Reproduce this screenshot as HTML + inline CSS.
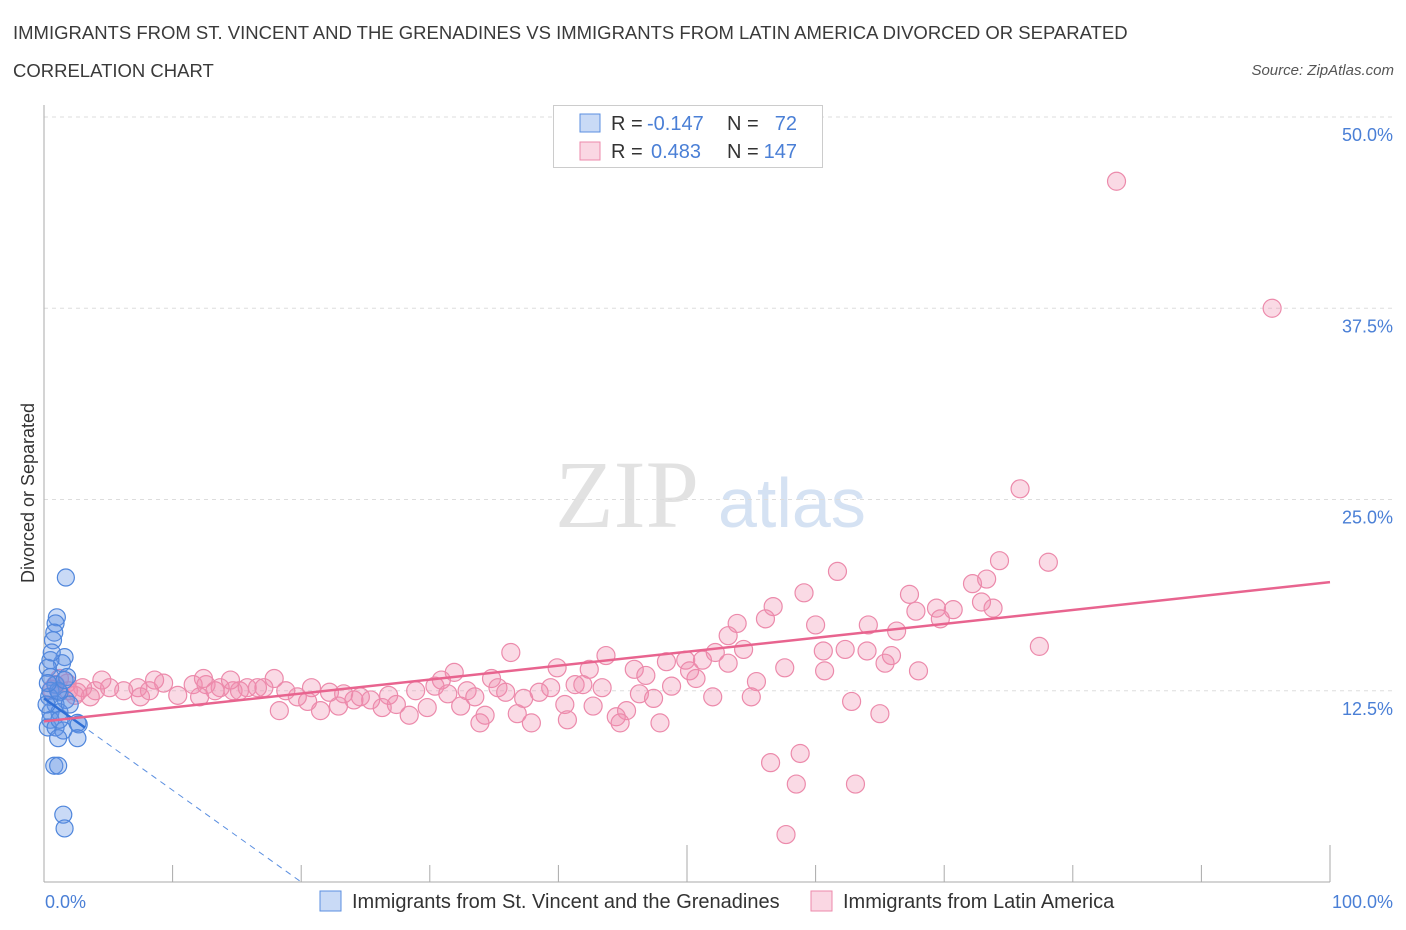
<!DOCTYPE html>
<html><head><meta charset="utf-8">
<style>
body{margin:0;background:#fff;font-family:"Liberation Sans",sans-serif;}
#wrap{position:relative;width:1406px;height:930px;overflow:hidden;}
.t{position:absolute;color:#3a3a3a;font-size:18.5px;}
</style></head>
<body>
<div id="wrap">
<div class="t" style="left:13px;top:22px;">IMMIGRANTS FROM ST. VINCENT AND THE GRENADINES VS IMMIGRANTS FROM LATIN AMERICA DIVORCED OR SEPARATED</div>
<div class="t" style="left:13px;top:60px;">CORRELATION CHART</div>
<div class="t" style="right:12px;top:62px;font-size:15px;font-style:italic;color:#555;">Source: ZipAtlas.com</div>
<svg id="chart" width="1406" height="930" style="position:absolute;left:0;top:0"></svg>
</div>
<script>
const yTicks=[12.5,25,37.5,50];
const yTickLabels=["12.5%","25.0%","37.5%","50.0%"];
const xLabels=["0.0%","100.0%"];
const blueX=[1.7,1.0,0.9,0.8,0.7,1.6,1.4,0.5,0.3,1.8,0.5,0.9,0.5,1.2,0.4,1.7,0.9,0.5,1.2,0.5,0.3,0.9,1.5,2.6,2.7,1.1,2.6,0.8,1.1,1.5,1.6,0.6,1.1,1.6,0.2,2.0,1.2,0.3];
const blueY=[19.9,17.3,16.9,16.3,15.8,14.7,14.3,14.5,14.0,13.4,13.4,12.9,12.5,12.4,12.1,11.9,11.6,11.1,11.1,10.6,10.1,10.1,9.9,10.4,10.3,9.4,9.4,7.6,7.6,4.4,3.5,15.0,12.5,13.2,11.6,11.6,10.6,13.0];
const pinkX=[83.4,95.5,75.9,74.3,78.1,61.7,72.2,73.3,67.3,59.1,72.9,69.4,70.7,67.8,73.8,56.7,69.7,56.1,53.9,60.0,64.1,66.3,53.2,77.4,36.3,43.7,52.2,54.4,60.6,62.3,64.0,65.9,51.2,48.4,49.9,65.4,39.9,42.4,45.9,53.2,57.6,60.7,68.0,50.2,46.8,31.9,30.9,34.8,50.7,55.4,41.3,41.9,43.4,30.4,32.9,35.3,39.4,38.5,46.3,48.8,52.0,55.0,47.4,37.3,35.9,33.5,31.4,28.9,26.8,62.8,32.4,40.5,42.7,45.3,44.5,34.3,36.8,65.0,37.9,40.7,44.8,47.9,33.9,28.4,29.8,27.4,26.3,25.4,24.1,22.9,22.2,21.5,23.3,24.6,20.5,20.8,19.7,18.8,18.3,17.9,17.1,15.8,14.7,13.7,12.6,11.6,10.4,9.3,8.2,7.3,6.2,5.1,4.0,3.0,1.9,56.5,58.8,58.5,63.1,57.7,12.1,15.2,16.6,14.5,13.3,12.4,8.6,7.5,4.5,3.6,0.9,1.2,2.4,0.6,1.8,2.6];
const pinkY=[45.8,37.5,25.7,21.0,20.9,20.3,19.5,19.8,18.8,18.9,18.3,17.9,17.8,17.7,17.9,18.0,17.2,17.2,16.9,16.8,16.8,16.4,16.1,15.4,15.0,14.8,15.0,15.2,15.1,15.2,15.1,14.8,14.5,14.4,14.5,14.3,14.0,13.9,13.9,14.3,14.0,13.8,13.8,13.8,13.5,13.7,13.2,13.3,13.3,13.1,12.9,12.9,12.7,12.8,12.5,12.7,12.7,12.4,12.3,12.8,12.1,12.1,12.0,12.0,12.4,12.1,12.3,12.5,12.2,11.8,11.5,11.6,11.5,11.2,10.8,10.9,11.0,11.0,10.4,10.6,10.4,10.4,10.4,10.9,11.4,11.6,11.4,11.9,11.9,11.5,12.4,11.2,12.3,12.1,11.8,12.7,12.1,12.5,11.2,13.3,12.7,12.7,12.5,12.7,12.9,12.9,12.2,13.0,12.5,12.7,12.5,12.7,12.5,12.7,12.5,7.8,8.4,6.4,6.4,3.1,12.1,12.5,12.7,13.2,12.5,13.3,13.2,12.1,13.2,12.1,12.9,13.3,12.2,12.6,13.0,12.4];
const pinkTrend=[0,10.5,100,19.6];
const blueTrend=[0,12.0,20,0];
const blueSolidEnd=3.2;

const x0=44,x1=1330,yB=882,yT=117;
const sx=v=>x0+(x1-x0)*v/100;
const sy=v=>yB-(yB-yT)*v/50;
const NS="http://www.w3.org/2000/svg";
const svg=document.getElementById('chart');
function mk(tag,attrs,parent){const e=document.createElementNS(NS,tag);for(const k in attrs)e.setAttribute(k,attrs[k]);(parent||svg).appendChild(e);return e;}

let w=mk('text',{x:555,y:527,'font-family':'Liberation Serif,serif','font-size':96,fill:'#e2e2e2'});w.textContent='ZIP';


let w2=mk('text',{x:718,y:527,'font-family':'Liberation Sans,sans-serif','font-size':70,fill:'#d5e2f3'});w2.textContent='atlas';



yTicks.forEach((v,i)=>{
  const g=mk('line',{x1:x0,x2:1392,y1:sy(v),y2:sy(v),stroke:'#ddd','stroke-dasharray':'4,4'});
  
  
  const t=mk('text',{x:1393,y:sy(v)+24,'text-anchor':'end','font-size':18,fill:'#4a7fd6','font-family':'Liberation Sans,sans-serif'});
  t.textContent=yTickLabels[i];
  
  
});
let ax=mk('line',{x1:x0,x2:x0,y1:105,y2:yB,stroke:'#aaa'});


let axx=mk('line',{x1:x0,x2:x1,y1:yB,y2:yB,stroke:'#aaa'});


for(let i=0;i<=10;i++){
  const tk=mk('line',{x1:sx(i*10),x2:sx(i*10),y1:yB,y2:i%5==0?845:865,stroke:'#aaa'});
  
  
}
let xl=mk('text',{x:45,y:908,'font-size':18,fill:'#4a7fd6','font-family':'Liberation Sans,sans-serif'});xl.textContent=xLabels[0];


let xr=mk('text',{x:1393,y:908,'text-anchor':'end','font-size':18,fill:'#4a7fd6','font-family':'Liberation Sans,sans-serif'});xr.textContent=xLabels[1];


let yt=mk('text',{x:0,y:0,transform:'translate(34,493) rotate(-90)','text-anchor':'middle','font-size':18,fill:'#333','font-family':'Liberation Sans,sans-serif'});yt.textContent='Divorced or Separated';



pinkX.forEach((v,i)=>{
  const c=mk('circle',{cx:sx(v),cy:sy(pinkY[i]),r:9,fill:'rgba(240,140,175,0.32)',stroke:'#ec8aab','stroke-width':1.2});
  
  
});
blueX.forEach((v,i)=>{
  const c=mk('circle',{cx:sx(v),cy:sy(blueY[i]),r:8.5,fill:'rgba(100,150,230,0.35)',stroke:'#4f86dc','stroke-width':1.2});
  
  
});
let bt=mk('line',{x1:sx(blueTrend[0]),y1:sy(blueTrend[1]),x2:sx(blueTrend[2]),y2:sy(blueTrend[3]),stroke:'#5b8fe0','stroke-width':1,'stroke-dasharray':'6,5'});


const bs=blueTrend[1]+(blueTrend[3]-blueTrend[1])*blueSolidEnd/(blueTrend[2]-blueTrend[0]);
let bts=mk('line',{x1:sx(blueTrend[0]),y1:sy(blueTrend[1]),x2:sx(blueSolidEnd),y2:sy(bs),stroke:'#2f6fd6','stroke-width':2.5});


let pt=mk('line',{x1:sx(pinkTrend[0]),y1:sy(pinkTrend[1]),x2:sx(pinkTrend[2]),y2:sy(pinkTrend[3]),stroke:'#e8648f','stroke-width':2.5});



const lg=mk('g',{});


mk('rect',{x:553.5,y:105.5,width:269,height:62,fill:'#fff',stroke:'#ccc'},lg);
mk('rect',{x:580,y:114,width:20,height:18,fill:'rgba(100,150,230,0.35)',stroke:'#5b8fe0'},lg);
mk('rect',{x:580,y:142,width:20,height:18,fill:'rgba(240,140,175,0.35)',stroke:'#ec8aab'},lg);
function lt(x,y,s,c,a){const t=mk('text',{x:x,y:y,'font-size':20,fill:c,'font-family':'Liberation Sans,sans-serif','text-anchor':a||'start'},lg);t.textContent=s;return t;}
lt(611,130,'R =','#333');lt(647,130,'-0.147','#4a7fd6');lt(727,130,'N =','#333');lt(797,130,'72','#4a7fd6','end');
lt(611,158,'R =','#333');lt(651,158,'0.483','#4a7fd6');lt(727,158,'N =','#333');lt(797,158,'147','#4a7fd6','end');

const bl=mk('g',{});


mk('rect',{x:320,y:891,width:21,height:20,fill:'rgba(100,150,230,0.35)',stroke:'#5b8fe0'},bl);
let l1=mk('text',{x:352,y:908,'font-size':20,fill:'#333','font-family':'Liberation Sans,sans-serif'},bl);l1.textContent='Immigrants from St. Vincent and the Grenadines';
mk('rect',{x:811,y:891,width:21,height:20,fill:'rgba(240,140,175,0.35)',stroke:'#ec8aab'},bl);
let l2=mk('text',{x:843,y:908,'font-size':20,fill:'#333','font-family':'Liberation Sans,sans-serif'},bl);l2.textContent='Immigrants from Latin America';
</script>
</body></html>
